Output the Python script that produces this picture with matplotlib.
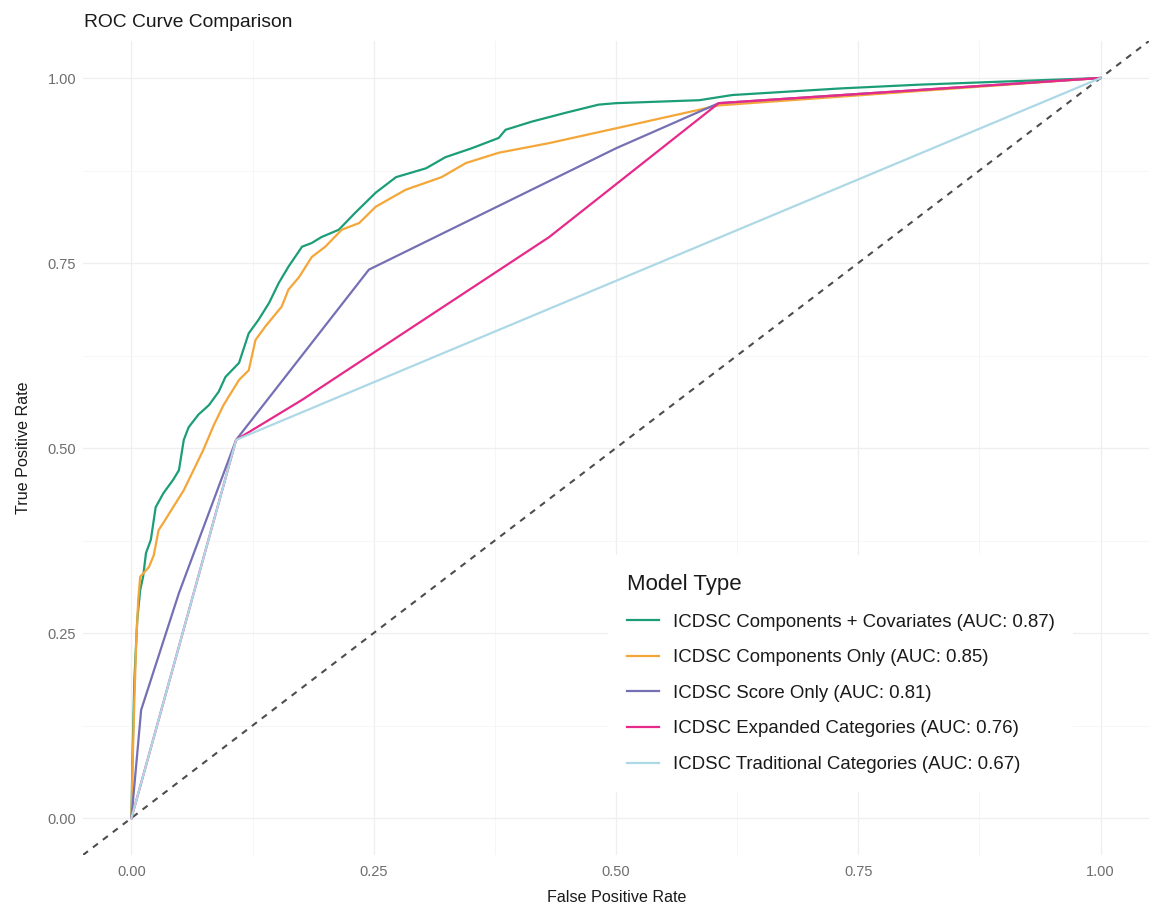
import matplotlib.pyplot as plt
import matplotlib.ticker as mticker
import numpy as np

plt.rcParams["font.family"] = ["Liberation Sans", "DejaVu Sans"]

# ROC points per model (false positive rate, true positive rate)
fpr_cov = [0.0, 0.001, 0.003, 0.006, 0.009, 0.012, 0.015, 0.020, 0.025, 0.033,
           0.043, 0.049, 0.054, 0.059, 0.069, 0.080, 0.090, 0.097, 0.111, 0.121,
           0.131, 0.142, 0.152, 0.162, 0.176, 0.186, 0.196, 0.214, 0.231, 0.252,
           0.273, 0.304, 0.324, 0.351, 0.379, 0.386, 0.413, 0.448, 0.482, 0.500,
           0.586, 0.620, 0.733, 0.813, 0.896, 1.0]
tpr_cov = [0.0, 0.078, 0.186, 0.268, 0.308, 0.326, 0.358, 0.376, 0.420, 0.439,
           0.457, 0.470, 0.511, 0.528, 0.545, 0.558, 0.576, 0.596, 0.615, 0.655,
           0.673, 0.696, 0.723, 0.745, 0.772, 0.777, 0.785, 0.795, 0.818, 0.845,
           0.866, 0.878, 0.893, 0.905, 0.919, 0.930, 0.941, 0.953, 0.964, 0.966,
           0.970, 0.977, 0.986, 0.991, 0.995, 1.0]

fpr_comp = [0.0, 0.001, 0.003, 0.005, 0.007, 0.009, 0.018, 0.023, 0.028, 0.033,
            0.043, 0.054, 0.064, 0.074, 0.085, 0.095, 0.111, 0.121, 0.128, 0.138,
            0.155, 0.162, 0.173, 0.186, 0.200, 0.217, 0.235, 0.252, 0.283, 0.320,
            0.345, 0.379, 0.431, 0.500, 0.606, 1.0]
tpr_comp = [0.0, 0.065, 0.159, 0.241, 0.295, 0.326, 0.339, 0.355, 0.389, 0.399,
            0.420, 0.443, 0.470, 0.497, 0.531, 0.558, 0.592, 0.605, 0.646, 0.664,
            0.691, 0.714, 0.731, 0.758, 0.772, 0.795, 0.804, 0.826, 0.849, 0.866,
            0.885, 0.899, 0.912, 0.932, 0.963, 1.0]

fpr_score = [0.0, 0.010, 0.049, 0.108, 0.245, 0.500, 0.606, 1.0]
tpr_score = [0.0, 0.146, 0.304, 0.511, 0.741, 0.905, 0.966, 1.0]

fpr_expanded = [0.0, 0.108, 0.176, 0.431, 0.606, 1.0]
tpr_expanded = [0.0, 0.511, 0.565, 0.785, 0.966, 1.0]

fpr_trad = [0.0, 0.108, 1.0]
tpr_trad = [0.0, 0.511, 1.0]

labels = [
    "ICDSC Components + Covariates (AUC: 0.87)",
    "ICDSC Components Only (AUC: 0.85)",
    "ICDSC Score Only (AUC: 0.81)",
    "ICDSC Expanded Categories (AUC: 0.76)",
    "ICDSC Traditional Categories (AUC: 0.67)",
]
colors = ["#1b9e77", "#f4a638", "#7570b3", "#e7298a", "#add8e6"]
curves = [
    (fpr_cov, tpr_cov),
    (fpr_comp, tpr_comp),
    (fpr_score, tpr_score),
    (fpr_expanded, tpr_expanded),
    (fpr_trad, tpr_trad),
]

W, H = 1157, 908
fig = plt.figure(figsize=(W / 100, H / 100), dpi=100)
ax = fig.add_axes([83 / W, 1 - 855 / H, (1149 - 83) / W, (855 - 41) / H])

for (fpr, tpr), color, label in zip(curves, colors, labels):
    ax.plot(fpr, tpr, color=color, lw=1.6, label=label, solid_joinstyle="round")

# chance line across the whole panel
ax.axline((0, 0), (1, 1), color="#4d4d4d", lw=1.5, ls=(0, (3, 3)), zorder=1)

ax.set_xlim(-0.05, 1.05)
ax.set_ylim(-0.05, 1.05)
ticks = np.arange(0, 1.01, 0.25)
ax.set_xticks(ticks)
ax.set_yticks(ticks)
ax.xaxis.set_minor_locator(mticker.MultipleLocator(0.125))
ax.yaxis.set_minor_locator(mticker.MultipleLocator(0.125))
ax.xaxis.set_major_formatter(mticker.FormatStrFormatter("%.2f"))
ax.yaxis.set_major_formatter(mticker.FormatStrFormatter("%.2f"))
ax.tick_params(which="both", length=0, labelsize=10.5, labelcolor="#6e6e6e")
ax.tick_params(axis="x", pad=7)
ax.tick_params(axis="y", pad=5)
ax.grid(which="major", color="#efefef", lw=0.9)
ax.grid(which="minor", color="#f5f5f5", lw=0.6)
ax.set_axisbelow(True)
for spine in ax.spines.values():
    spine.set_visible(False)

ax.set_xlabel("False Positive Rate", fontsize=11.6, color="#1a1a1a", va="center")
ax.set_ylabel("True Positive Rate", fontsize=11.6, color="#1a1a1a", va="center")
ax.xaxis.set_label_coords(0.501, (855 - 897) / 814)
ax.yaxis.set_label_coords((24 - 83) / 1066, 0.5)
ax.set_title("ROC Curve Comparison", loc="left", fontsize=13.9, color="#1a1a1a",
             x=0.001, y=(855 - 22) / 814, va="center", pad=0)

leg = ax.legend(
    title="Model Type",
    loc="upper left",
    bbox_to_anchor=(599 / W, 1 - 546 / H),
    bbox_transform=fig.transFigure,
    fontsize=13.4,
    title_fontsize=16,
    alignment="left",
    frameon=True,
    fancybox=False,
    borderpad=1.0,
    handlelength=1.72,
    handletextpad=0.75,
    labelspacing=1.0,
)
leg.get_frame().set_facecolor("white")
leg.get_frame().set_edgecolor("none")
leg.get_frame().set_alpha(1)
for text in leg.get_texts():
    text.set_color("#1a1a1a")
leg.get_title().set_color("#1a1a1a")

fig.savefig("out.png", dpi=100)
